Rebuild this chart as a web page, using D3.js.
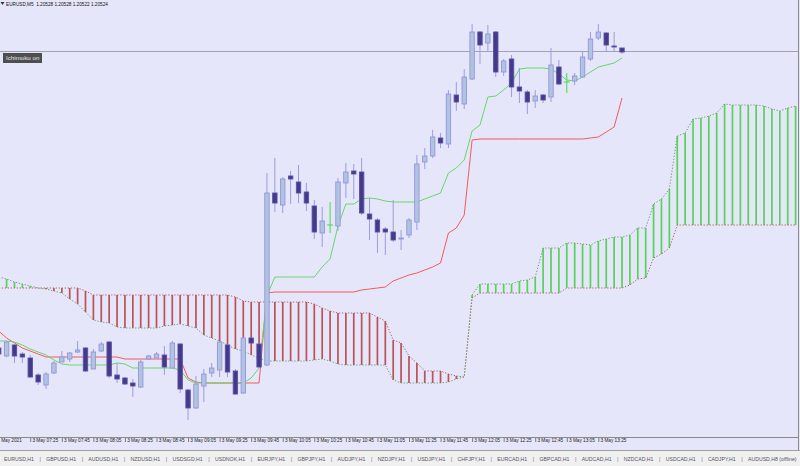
<!DOCTYPE html>
<html><head><meta charset="utf-8">
<script src="https://cdn.jsdelivr.net/npm/d3@7/dist/d3.min.js"></script>
<style>html,body{margin:0;padding:0;background:#E6E6FA;overflow:hidden}svg{display:block}</style>
</head><body><svg id="c" width="800" height="466"></svg>
<script>
// ---------- DATA ----------
const symbolTitle = "EURUSD,M5  1.20528 1.20528 1.20522 1.20524";
const bidPrice = 1.20524;
const indicatorLabel = "Ichimoku on";

const opens = [1.20228,1.20220,1.20231,1.20222,1.20218,1.20201,1.20191,1.20203,1.20214,1.20217,
1.20224,1.20228,1.20207,1.20225,1.20234,1.20201,1.20198,1.20193,1.20189,1.20217,
1.20218,1.20221,1.20208,1.20232,1.20186,1.20168,1.20190,1.20203,1.20206,1.20231,
1.20205,1.20183,1.20238,1.20232,1.20211,1.20383,1.20371,1.20400,1.20394,1.20384,
1.20370,1.20343,1.20351,1.20350,1.20393,1.20405,1.20404,1.20362,1.20356,1.20347,
1.20344,1.20337,1.20341,1.20354,1.20414,1.20420,1.20438,1.20432,1.20481,1.20472,
1.20497,1.20544,1.20533,1.20544,1.20504,1.20517,1.20489,1.20484,1.20475,1.20481,
1.20479,1.20509,1.20494,1.20495,1.20499,1.20517,1.20538,1.20543,1.20530,1.20528];
const highs = [1.20230,1.20235,1.20232,1.20224,1.20221,1.20203,1.20204,1.20215,1.20225,1.20224,
1.20235,1.20229,1.20227,1.20234,1.20235,1.20213,1.20199,1.20197,1.20216,1.20221,
1.20224,1.20230,1.20235,1.20233,1.20187,1.20200,1.20207,1.20213,1.20235,1.20232,
1.20207,1.20239,1.20239,1.20233,1.20403,1.20418,1.20399,1.20405,1.20411,1.20393,
1.20376,1.20369,1.20374,1.20398,1.20413,1.20412,1.20418,1.20378,1.20358,1.20349,
1.20376,1.20346,1.20358,1.20421,1.20428,1.20446,1.20443,1.20486,1.20494,1.20507,
1.20552,1.20545,1.20551,1.20545,1.20517,1.20521,1.20508,1.20486,1.20486,1.20482,
1.20528,1.20516,1.20503,1.20503,1.20524,1.20544,1.20552,1.20544,1.20544,1.20528];
const lows = [1.20220,1.20219,1.20213,1.20213,1.20198,1.20191,1.20187,1.20202,1.20214,1.20214,
1.20223,1.20204,1.20207,1.20224,1.20198,1.20193,1.20191,1.20179,1.20188,1.20216,
1.20218,1.20201,1.20208,1.20183,1.20156,1.20167,1.20174,1.20199,1.20199,1.20199,
1.20181,1.20182,1.20233,1.20209,1.20210,1.20364,1.20363,1.20372,1.20373,1.20365,
1.20337,1.20329,1.20343,1.20345,1.20378,1.20377,1.20361,1.20336,1.20323,1.20321,
1.20334,1.20326,1.20338,1.20346,1.20407,1.20418,1.20428,1.20428,1.20465,1.20467,
1.20496,1.20512,1.20524,1.20499,1.20500,1.20479,1.20473,1.20462,1.20468,1.20473,
1.20474,1.20491,1.20483,1.20491,1.20498,1.20515,1.20536,1.20524,1.20524,1.20522];
const closes = [1.20222,1.20234,1.20220,1.20219,1.20199,1.20194,1.20202,1.20213,1.20219,1.20223,
1.20226,1.20205,1.20224,1.20232,1.20200,1.20197,1.20192,1.20190,1.20214,1.20220,
1.20222,1.20209,1.20233,1.20187,1.20168,1.20192,1.20202,1.20208,1.20234,1.20204,
1.20182,1.20238,1.20233,1.20209,1.20383,1.20373,1.20397,1.20397,1.20383,1.20373,
1.20344,1.20355,1.20351,1.20394,1.20404,1.20402,1.20363,1.20357,1.20344,1.20344,
1.20336,1.20338,1.20356,1.20412,1.20420,1.20439,1.20433,1.20482,1.20474,1.20499,
1.20544,1.20531,1.20542,1.20504,1.20515,1.20489,1.20485,1.20474,1.20480,1.20476,
1.20511,1.20492,1.20494,1.20500,1.20519,1.20537,1.20544,1.20531,1.20529,1.20524];

// Ichimoku lines (per bar)
const tenkan = [1.20235,1.20235,1.20234,1.20231,1.20227,1.20224,1.20221,1.20216,1.20212,1.20211,
1.20211,1.20211,1.20211,1.20211,1.20211,1.20213,1.20212,1.20208,1.20208,1.20208,
1.20208,1.20208,1.20208,1.20206,1.20196,1.20193,1.20193,1.20193,1.20193,1.20193,
1.20193,1.20193,1.20198,1.20208,1.20280,1.20299,1.20299,1.20299,1.20299,1.20299,
1.20299,1.20309,1.20317,1.20350,1.20372,1.20372,1.20377,1.20378,1.20377,1.20375,
1.20374,1.20374,1.20374,1.20374,1.20377,1.20380,1.20383,1.20403,1.20408,1.20416,
1.20445,1.20451,1.20479,1.20480,1.20486,1.20493,1.20507,1.20508,1.20508,1.20508,
1.20507,1.20502,1.20496,1.20495,1.20499,1.20504,1.20509,1.20511,1.20513,1.20518];
const kijun = [1.20245,1.20238,1.20233,1.20228,1.20225,1.20222,1.20219,1.20219,1.20219,1.20219,
1.20219,1.20219,1.20219,1.20219,1.20219,1.20219,1.20217,1.20217,1.20217,1.20217,
1.20217,1.20217,1.20217,1.20217,1.20198,1.20194,1.20193,1.20193,1.20193,1.20193,
1.20193,1.20193,1.20193,1.20193,1.20283,1.20284,1.20284,1.20284,1.20284,1.20284,
1.20284,1.20284,1.20284,1.20284,1.20284,1.20284,1.20286,1.20287,1.20288,1.20289,
1.20295,1.20298,1.20301,1.20303,1.20306,1.20309,1.20313,1.20343,1.20348,1.20361,
1.20436,1.20437,1.20437,1.20437,1.20437,1.20437,1.20437,1.20437,1.20437,1.20437,
1.20437,1.20437,1.20437,1.20437,1.20437,1.20438,1.20439,1.20444,1.20449,1.20478];
// Senkou spans (cloud, shifted 26 bars forward -> 102 points)
const spanA = [1.20299,1.20297,1.20294,1.20292,1.20290,1.20288,1.20287,1.20285,1.20283,1.20277,
1.20272,1.20264,1.20256,1.20254,1.20253,1.20249,1.20248,1.20248,1.20248,1.20248,
1.20248,1.20250,1.20251,1.20252,1.20250,1.20248,1.20241,1.20238,1.20235,1.20231,
1.20227,1.20225,1.20221,1.20218,1.20215,1.20215,1.20215,1.20215,1.20215,1.20215,
1.20216,1.20217,1.20215,1.20212,1.20211,1.20211,1.20211,1.20211,1.20211,1.20211,
1.20196,1.20193,1.20193,1.20193,1.20193,1.20193,1.20193,1.20194,1.20197,1.20199,
1.20281,1.20292,1.20292,1.20292,1.20292,1.20292,1.20295,1.20296,1.20299,1.20328,
1.20328,1.20328,1.20333,1.20333,1.20332,1.20331,1.20335,1.20337,1.20339,1.20339,
1.20341,1.20348,1.20348,1.20372,1.20377,1.20387,1.20440,1.20443,1.20457,1.20458,
1.20460,1.20463,1.20472,1.20471,1.20471,1.20471,1.20471,1.20470,1.20467,1.20465,
1.20468,1.20470];
const spanB = [1.20288,1.20288,1.20288,1.20288,1.20288,1.20288,1.20288,1.20288,1.20288,1.20288,
1.20288,1.20285,1.20281,1.20281,1.20281,1.20281,1.20281,1.20281,1.20281,1.20281,
1.20281,1.20281,1.20281,1.20281,1.20281,1.20281,1.20281,1.20281,1.20281,1.20281,
1.20279,1.20275,1.20274,1.20274,1.20274,1.20274,1.20274,1.20274,1.20274,1.20274,
1.20272,1.20268,1.20265,1.20263,1.20263,1.20263,1.20263,1.20263,1.20259,1.20255,
1.20236,1.20233,1.20220,1.20213,1.20205,1.20205,1.20205,1.20202,1.20200,1.20199,
1.20278,1.20283,1.20283,1.20283,1.20283,1.20283,1.20283,1.20283,1.20283,1.20283,
1.20283,1.20283,1.20288,1.20288,1.20288,1.20288,1.20288,1.20288,1.20288,1.20288,
1.20291,1.20297,1.20298,1.20318,1.20322,1.20328,1.20351,1.20351,1.20351,1.20351,
1.20351,1.20351,1.20351,1.20351,1.20351,1.20351,1.20351,1.20351,1.20351,1.20351,
1.20351,1.20351];

const timeLabels = ["May 2021","3 May 07:25","3 May 07:45","3 May 08:05","3 May 08:25","3 May 08:45",
"3 May 09:05","3 May 09:25","3 May 09:45","3 May 10:05","3 May 10:25","3 May 10:45","3 May 11:05",
"3 May 11:25","3 May 11:45","3 May 12:05","3 May 12:25","3 May 12:45","3 May 13:05","3 May 13:25"];
const timeLabelBars = [0,4,8,12,16,20,24,28,32,36,40,44,48,52,56,60,64,68,72,76];
const tabs = ["EURUSD,H1","GBPUSD,H1","AUDUSD,H1","NZDUSD,H1","USDSGD,H1","USDNOK,H1","EURJPY,H1",
"GBPJPY,H1","AUDJPY,H1","NZDJPY,H1","USDJPY,H1","CHFJPY,H1","EURCAD,H1","GBPCAD,H1","AUDCAD,H1",
"NZDCAD,H1","USDCAD,H1","CADJPY,H1","AUDUSD,H8 (offline)"];

// ---------- DRAW ----------
const W = 800, H = 466, chartBottom = 437;
const svg = d3.select("#c");
const x = d3.scaleLinear().domain([0, 101]).range([-1.3, 795.6]);
const y = d3.scaleLinear().domain([1.20110, 1.20576]).range([466, 0]);
const F = "'Liberation Sans', Arial, sans-serif";

svg.append("rect").attr("width", W).attr("height", H).attr("fill", "#E6E6FA");
svg.append("defs").append("clipPath").attr("id", "clip")
  .append("rect").attr("x", 0).attr("y", 0).attr("width", 798).attr("height", chartBottom);
const g = svg.append("g").attr("clip-path", "url(#clip)");

// cloud hatching
const cloudIdx = d3.range(spanA.length);
g.append("g").selectAll("line").data(cloudIdx).join("line")
  .attr("x1", i => x(i)).attr("x2", i => x(i))
  .attr("y1", i => y(spanA[i])).attr("y2", i => y(spanB[i]))
  .attr("stroke", i => spanA[i] >= spanB[i] ? "#3ccf3c" : "#b4363a")
  .attr("stroke-width", 1.7).attr("stroke-opacity", 0.85);

// cloud borders (dotted)
const lineOf = arr => d3.line().x((d, i) => x(i)).y(d => y(d))(arr);
g.append("path").attr("d", lineOf(spanB)).attr("fill", "none")
  .attr("stroke", "#b06464").attr("stroke-width", 1).attr("stroke-dasharray", "1.3,1.7");
g.append("path").attr("d", lineOf(spanA)).attr("fill", "none")
  .attr("stroke", "#6f9f6f").attr("stroke-width", 1).attr("stroke-dasharray", "1.3,1.7");

// kijun / tenkan
g.append("path").attr("d", lineOf(kijun)).attr("fill", "none")
  .attr("stroke", "#f45a5a").attr("stroke-width", 1);
g.append("path").attr("d", lineOf(tenkan)).attr("fill", "none")
  .attr("stroke", "#66d866").attr("stroke-width", 1);

// bid line
g.append("line").attr("x1", 0).attr("x2", 800)
  .attr("y1", Math.round(y(bidPrice)) - 0.5).attr("y2", Math.round(y(bidPrice)) - 0.5)
  .attr("stroke", "#a2a2b4").attr("stroke-width", 1);

// candles
const bars = d3.range(opens.length);
const cg = g.append("g");
bars.forEach(i => {
  const cx = x(i), o = opens[i], c = closes[i];
  if (o === c) {
    cg.append("line").attr("x1", cx).attr("x2", cx).attr("y1", y(highs[i])).attr("y2", y(lows[i]))
      .attr("stroke", "#44dd44").attr("stroke-width", 1);
    cg.append("line").attr("x1", cx - 3).attr("x2", cx + 3).attr("y1", y(o)).attr("y2", y(o))
      .attr("stroke", "#44dd44").attr("stroke-width", 1);
    return;
  }
  const bull = c > o;
  cg.append("line").attr("x1", cx).attr("x2", cx).attr("y1", y(highs[i])).attr("y2", y(lows[i]))
    .attr("stroke", "#9c9cdc").attr("stroke-width", 1);
  const top = y(Math.max(o, c)), bot = y(Math.min(o, c));
  cg.append("rect").attr("x", cx - 2.2).attr("y", top).attr("width", 4.4).attr("height", Math.max(1, bot - top))
    .attr("fill", bull ? "#b0c4de" : "#453a8a")
    .attr("stroke", bull ? "#9494e2" : "#5a4fa8").attr("stroke-width", 0.9);
});

// title
svg.append("path").attr("d", "M0.5,2 L4.5,2 L2.5,5 Z").attr("fill", "#333");
svg.append("text").attr("x", 6).attr("y", 6.3).attr("font-family", F).attr("font-size", 4.7)
  .attr("fill", "#111").attr("xml:space", "preserve").text(symbolTitle);

// indicator label
svg.append("rect").attr("x", 3).attr("y", 53).attr("width", 39).attr("height", 10).attr("fill", "#4e4e4e");
svg.append("text").attr("x", 6).attr("y", 60.3).attr("font-family", F).attr("font-size", 6.2)
  .attr("fill", "#e6e6e6").text(indicatorLabel);

// frame
svg.append("line").attr("x1", 0).attr("x2", 799).attr("y1", chartBottom + 0.5).attr("y2", chartBottom + 0.5)
  .attr("stroke", "#8a8a8a");
svg.append("line").attr("x1", 798.5).attr("x2", 798.5).attr("y1", 0).attr("y2", 450)
  .attr("stroke", "#8a8a8a");

// time axis labels
const ta = svg.append("g");
timeLabels.forEach((t, k) => {
  const tx = k === 0 ? -1 : x(timeLabelBars[k]);
  if (k > 0) ta.append("line").attr("x1", tx + 0.5).attr("x2", tx + 0.5).attr("y1", 438).attr("y2", 442)
    .attr("stroke", "#333").attr("stroke-width", 0.6);
  ta.append("text").attr("x", tx + 2.2).attr("y", 442.3).attr("font-family", F).attr("font-size", 4.7)
    .attr("fill", "#222").text(t);
});

// tab bar
svg.append("rect").attr("x", 0).attr("y", 451).attr("width", W).attr("height", 15).attr("fill", "#f0f0f0");
svg.append("line").attr("x1", 0).attr("x2", W).attr("y1", 450.5).attr("y2", 450.5).attr("stroke", "#a0a0a0");
let tx = 4;
tabs.forEach((t, k) => {
  const el = svg.append("text").attr("x", tx).attr("y", 460.5).attr("font-family", F).attr("font-size", 5.2)
    .attr("fill", "#555").text(t);
  const w = el.node().getComputedTextLength();
  if (k < tabs.length - 1) {
    svg.append("text").attr("x", tx + w + 5.5).attr("y", 460.5).attr("font-family", F).attr("font-size", 5.5)
      .attr("fill", "#777").text("|");
  }
  tx += w + 12.2;
});
</script>
</body></html>
